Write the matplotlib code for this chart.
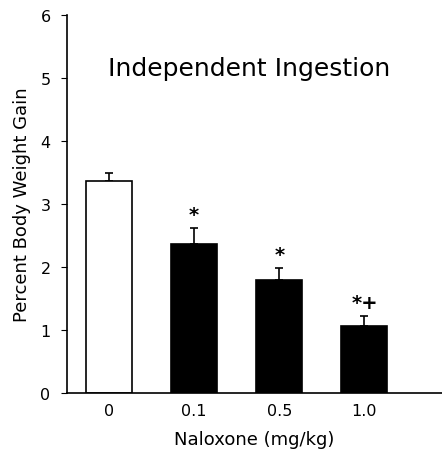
import matplotlib.pyplot as plt

# datos
doses = ['0', '0.1', '0.5', '1.0']
gain = [3.36, 2.37, 1.79, 1.07]
sem = [0.13, 0.25, 0.20, 0.16]
marks = ['', '*', '*', '*+']
colors = ['white', 'black', 'black', 'black']

fig = plt.figure(figsize=(4.42, 4.52), dpi=100)
ax = fig.add_axes([0.152, 0.128, 0.848, 0.837])

x = list(range(len(doses)))
ax.bar(x, gain, width=0.54, color=colors, edgecolor='black', linewidth=1.2, zorder=2)
ax.errorbar(x, gain, yerr=[[0] * len(sem), sem], fmt='none', ecolor='black',
            elinewidth=1.2, capsize=3, capthick=1.2, zorder=1)

for xi, g, s, m in zip(x, gain, sem, marks):
    if m:
        ax.text(xi, g + s + 0.06, m, ha='center', va='bottom', fontsize=14,
                fontweight='bold')

ax.set_xlim(-0.49, 3.91)
ax.set_ylim(0, 6)
ax.set_yticks(range(7))
ax.set_xticks(x)
ax.set_xticklabels(doses)
ax.tick_params(axis='x', length=0, pad=7, labelsize=11.5)
ax.tick_params(axis='y', length=4, direction='out', pad=8, labelsize=11.5)
ax.spines['top'].set_visible(False)
ax.spines['right'].set_visible(False)
ax.spines['left'].set_linewidth(1.2)
ax.spines['bottom'].set_linewidth(1.2)

ax.set_ylabel('Percent Body Weight Gain', fontsize=13, labelpad=7)
ax.set_xlabel('Naloxone (mg/kg)', fontsize=13, labelpad=9)

ax.text(0.109, 0.86, 'Independent Ingestion', transform=ax.transAxes,
        fontsize=18, ha='left', va='center')

fig.savefig('out.png', dpi=100)
